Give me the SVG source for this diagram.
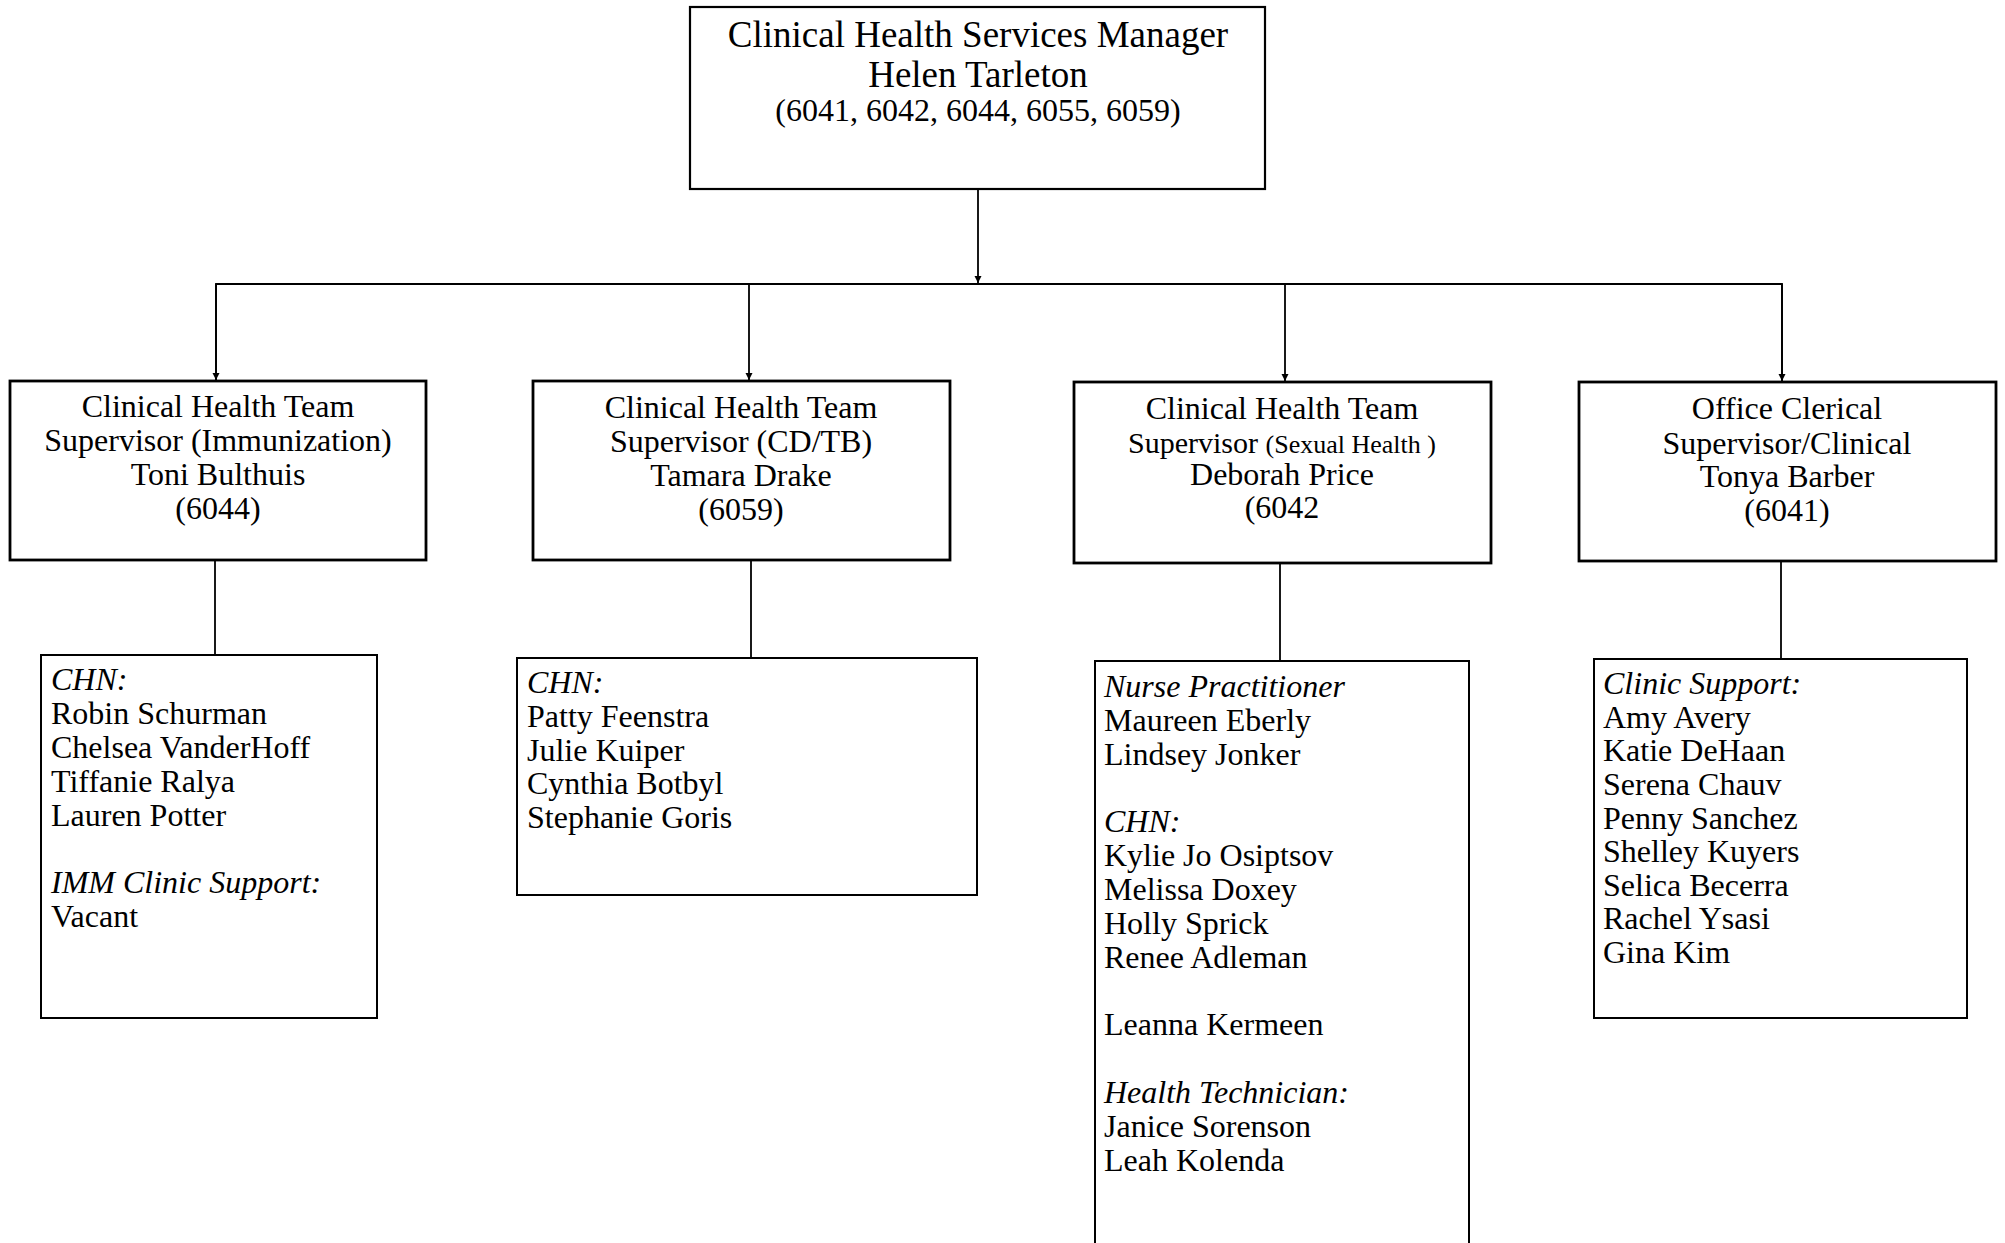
<svg xmlns="http://www.w3.org/2000/svg" width="2005" height="1243" viewBox="0 0 2005 1243">
<style>
  text { font-family: "Liberation Serif", "Times New Roman", serif; fill: #000; }
  .box { fill: #fff; stroke: #000; }
  .b1 { stroke-width: 2.2; }
  .b2 { stroke-width: 2.8; }
  .b3 { stroke-width: 2; }
  .t1 { font-size: 37px; text-anchor: middle; }
  .t1s { font-size: 32px; text-anchor: middle; }
  .t2 { font-size: 32px; text-anchor: middle; }
  .t3 { font-size: 32px; }
  .it { font-style: italic; }
  .conn { stroke: #000; stroke-width: 1.8; fill: none; }
</style>
<defs>
  <marker id="arr" markerWidth="8" markerHeight="8" refX="7" refY="4" orient="auto" markerUnits="userSpaceOnUse">
    <path d="M0,0.5 L7,4 L0,7.5 Z" fill="#000"/>
  </marker>
</defs>
<rect width="2005" height="1243" fill="#fff"/>
<g id="connectors">
  <line class="conn" x1="978" y1="189" x2="978" y2="283" marker-end="url(#arr)"/>
  <polyline class="conn" points="216,381 216,284 1782,284 1782,381"/>
  <line class="conn" x1="216" y1="284" x2="216" y2="380" marker-end="url(#arr)"/>
  <line class="conn" x1="749" y1="284" x2="749" y2="380" marker-end="url(#arr)"/>
  <line class="conn" x1="1285" y1="284" x2="1285" y2="381" marker-end="url(#arr)"/>
  <line class="conn" x1="1782" y1="284" x2="1782" y2="381" marker-end="url(#arr)"/>
  <line class="conn" x1="215" y1="560" x2="215" y2="655"/>
  <line class="conn" x1="751" y1="560" x2="751" y2="658"/>
  <line class="conn" x1="1280" y1="563" x2="1280" y2="661"/>
  <line class="conn" x1="1781" y1="561" x2="1781" y2="659"/>
</g>
<g id="manager">
  <rect class="box b1" x="690" y="7" width="575" height="182"/>
  <text class="t1" x="978" y="47">Clinical Health Services Manager</text>
  <text class="t1" x="978" y="87">Helen Tarleton</text>
  <text class="t1s" x="978" y="121">(6041, 6042, 6044, 6055, 6059)</text>
</g>
<g id="sup-immunization">
  <rect class="box b2" x="10" y="381" width="416" height="179"/>
  <text class="t2" x="218" y="417">Clinical Health Team</text>
  <text class="t2" x="218" y="451">Supervisor (Immunization)</text>
  <text class="t2" x="218" y="485">Toni Bulthuis</text>
  <text class="t2" x="218" y="519">(6044)</text>
</g>
<g id="sup-cdtb">
  <rect class="box b2" x="533" y="381" width="417" height="179"/>
  <text class="t2" x="741" y="418">Clinical Health Team</text>
  <text class="t2" x="741" y="452">Supervisor (CD/TB)</text>
  <text class="t2" x="741" y="486">Tamara Drake</text>
  <text class="t2" x="741" y="520">(6059)</text>
</g>
<g id="sup-sexual-health">
  <rect class="box b2" x="1074" y="382" width="417" height="181"/>
  <text class="t2" x="1282" y="419">Clinical Health Team</text>
  <text class="t2" x="1282" y="453"><tspan font-size="30">Supervisor </tspan><tspan font-size="26">(Sexual Health )</tspan></text>
  <text class="t2" x="1282" y="485">Deborah Price</text>
  <text class="t2" x="1282" y="518">(6042</text>
</g>
<g id="sup-clerical">
  <rect class="box b2" x="1579" y="382" width="417" height="179"/>
  <text class="t2" x="1787" y="419">Office Clerical</text>
  <text class="t2" x="1787" y="454">Supervisor/Clinical</text>
  <text class="t2" x="1787" y="487">Tonya Barber</text>
  <text class="t2" x="1787" y="521">(6041)</text>
</g>
<g id="team-immunization">
  <rect class="box b3" x="41" y="655" width="336" height="363"/>
  <text class="t3 it" x="51" y="690">CHN:</text>
  <text class="t3" x="51" y="724">Robin Schurman</text>
  <text class="t3" x="51" y="758">Chelsea VanderHoff</text>
  <text class="t3" x="51" y="792">Tiffanie Ralya</text>
  <text class="t3" x="51" y="826">Lauren Potter</text>
  <text class="t3 it" x="51" y="893">IMM Clinic Support:</text>
  <text class="t3" x="51" y="927">Vacant</text>
</g>
<g id="team-cdtb">
  <rect class="box b3" x="517" y="658" width="460" height="237"/>
  <text class="t3 it" x="527" y="693">CHN:</text>
  <text class="t3" x="527" y="727">Patty Feenstra</text>
  <text class="t3" x="527" y="761">Julie Kuiper</text>
  <text class="t3" x="527" y="794">Cynthia Botbyl</text>
  <text class="t3" x="527" y="828">Stephanie Goris</text>
</g>
<g id="team-sexual-health">
  <rect class="box b3" x="1095" y="661" width="374" height="600"/>
  <text class="t3 it" x="1104" y="697">Nurse Practitioner</text>
  <text class="t3" x="1104" y="731">Maureen Eberly</text>
  <text class="t3" x="1104" y="765">Lindsey Jonker</text>
  <text class="t3 it" x="1104" y="832">CHN:</text>
  <text class="t3" x="1104" y="866">Kylie Jo Osiptsov</text>
  <text class="t3" x="1104" y="900">Melissa Doxey</text>
  <text class="t3" x="1104" y="934">Holly Sprick</text>
  <text class="t3" x="1104" y="968">Renee Adleman</text>
  <text class="t3" x="1104" y="1035">Leanna Kermeen</text>
  <text class="t3 it" x="1104" y="1103">Health Technician:</text>
  <text class="t3" x="1104" y="1137">Janice Sorenson</text>
  <text class="t3" x="1104" y="1171">Leah Kolenda</text>
</g>
<g id="team-clerical">
  <rect class="box b3" x="1594" y="659" width="373" height="359"/>
  <text class="t3 it" x="1603" y="694">Clinic Support:</text>
  <text class="t3" x="1603" y="728">Amy Avery</text>
  <text class="t3" x="1603" y="761">Katie DeHaan</text>
  <text class="t3" x="1603" y="795">Serena Chauv</text>
  <text class="t3" x="1603" y="829">Penny Sanchez</text>
  <text class="t3" x="1603" y="862">Shelley Kuyers</text>
  <text class="t3" x="1603" y="896">Selica Becerra</text>
  <text class="t3" x="1603" y="929">Rachel Ysasi</text>
  <text class="t3" x="1603" y="963">Gina Kim</text>
</g>
</svg>
